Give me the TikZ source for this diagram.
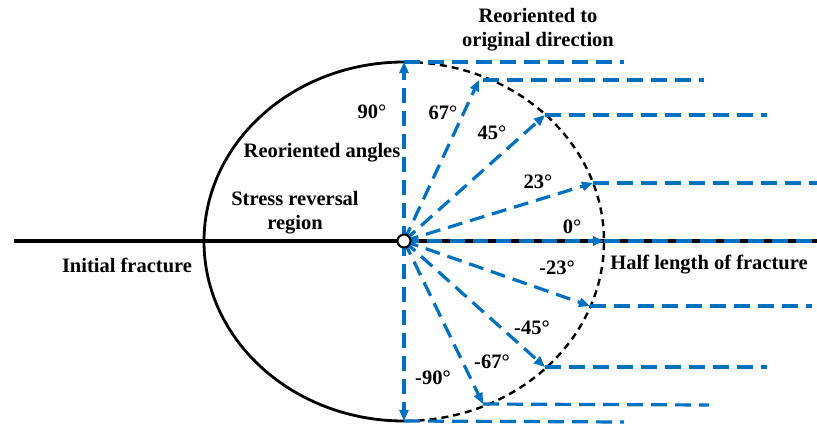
\documentclass[tikz,border=0pt]{standalone}
\usepackage{fontspec}
\setmainfont{Liberation Serif}
\usetikzlibrary{arrows.meta}
\definecolor{bl}{RGB}{0,112,192}
\begin{document}
\begin{tikzpicture}[x=1pt,y=-1pt,
  ray/.style={bl, line width=3.2pt, dash pattern=on 15pt off 8pt, -{Triangle[length=11pt,width=9pt]}},
  hline/.style={bl, line width=3.2pt, dash pattern=on 16pt off 8pt},
  lbl/.style={font=\fontsize{20.5}{24}\selectfont\bfseries, inner sep=0pt, align=center},
  fracture/.style={black, line width=3.3pt},
  solidarc/.style={black, line width=2.8pt},
  dasharc/.style={black, line width=2.4pt, dash pattern=on 7pt off 5pt}]
\useasboundingbox (0,0) rectangle (817,426);
% named points
\coordinate (o) at (404,241);
\coordinate (L) at (14,241);
\coordinate (R) at (817,241);
\coordinate (top) at (404,62);
\coordinate (t90) at (404,62);   \coordinate (e90) at (624,62);
\coordinate (t67) at (479,80);   \coordinate (s67) at (483,80);  \coordinate (e67) at (704,80);
\coordinate (t45) at (545,115);  \coordinate (e45) at (767,115);
\coordinate (t23) at (593,183);  \coordinate (e23) at (817,183);
\coordinate (t0) at (604,241);   \coordinate (e0) at (817,241);
\coordinate (tm23) at (590,306); \coordinate (em23) at (812,306);
\coordinate (tm45) at (545,367); \coordinate (em45) at (767,367);
\coordinate (tm67) at (483,404); \coordinate (em67) at (709,405);
\coordinate (tm90) at (404,421); \coordinate (em90) at (624,422);
% fracture line
\draw[fracture] (L) -- (R);
% ellipse halves
\draw[solidarc] (top) arc[start angle=90, end angle=270, x radius=200pt, y radius=179.5pt];
\draw[dasharc] (top) arc[start angle=90, end angle=-90, x radius=200pt, y radius=179.5pt];
% rays
\foreach \t in {t90,t67,t45,t23,t0,tm23,tm45,tm67,tm90}
  \draw[ray] (o) -- (\t);
% horizontal reoriented lines
\draw[hline] (t90) -- (e90);
\draw[hline] (s67) -- (e67);
\draw[hline] (t45) -- (e45);
\draw[hline] (t23) -- (e23);
\draw[hline] (t0) -- (e0);
\draw[hline] (tm23) -- (em23);
\draw[hline] (tm45) -- (em45);
\draw[hline] (tm67) -- (em67);
\draw[hline] (tm90) -- (em90);
% centre tip
\node[circle, draw, line width=2pt, fill=white, minimum size=13pt, inner sep=0pt] (c) at (o) {};
% labels
\node[lbl] (l1) at (538,30) {Reoriented to\\original direction};
\node[lbl] (l2) at (372,112) {90°};
\node[lbl] (l3) at (322,153) {Reoriented angles};
\node[lbl] (l4) at (295,213) {Stress reversal\\region};
\node[lbl] (l5) at (127,265) {Initial fracture};
\node[lbl] (l6) at (709,265) {Half length of fracture};
\node[lbl] (a67) at (443,113) {67°};
\node[lbl] (a45) at (492,133) {45°};
\node[lbl] (a23) at (538,182) {23°};
\node[lbl] (a0) at (572,227) {0°};
\node[lbl] (am23) at (557,268) {-23°};
\node[lbl] (am45) at (532,328) {-45°};
\node[lbl] (am67) at (492,362) {-67°};
\node[lbl] (am90) at (433,378) {-90°};
\end{tikzpicture}
\end{document}
